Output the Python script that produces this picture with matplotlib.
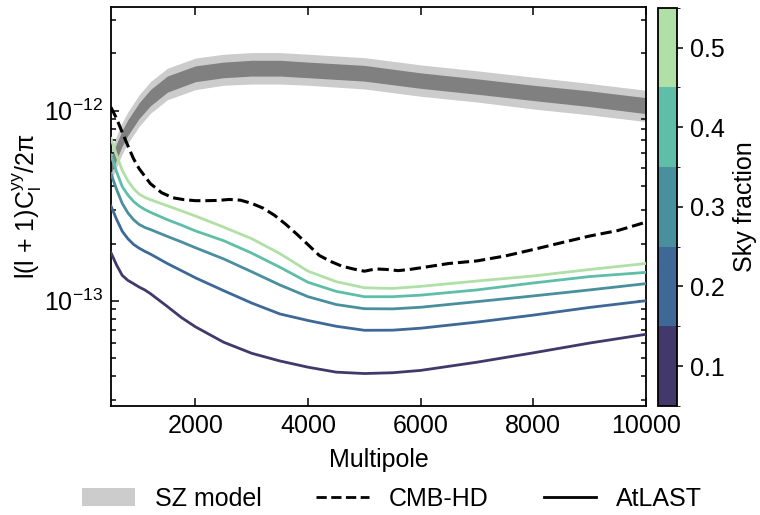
import numpy as np
import matplotlib
matplotlib.use('Agg')
import matplotlib.pyplot as plt
from matplotlib.colors import ListedColormap, BoundaryNorm
from matplotlib.cm import ScalarMappable
from matplotlib.patches import Patch
from matplotlib.lines import Line2D

plt.rcParams['font.family'] = ['Liberation Sans', 'DejaVu Sans']
plt.rcParams['mathtext.fontset'] = 'custom'
plt.rcParams['mathtext.rm'] = 'Liberation Sans'
plt.rcParams['mathtext.it'] = 'Liberation Sans:italic'
plt.rcParams['mathtext.default'] = 'regular'
plt.rcParams['font.size'] = 18

# values below are in units of 1e-13
unit = 1e-13

# SZ model band (two confidence levels)
ell_sz = [500, 600, 700, 800, 1000, 1200, 1500, 2000, 2500, 3000, 3500, 4000,
          5000, 6000, 7000, 8000, 9000, 10000]
sz_light_lo = [4.24, 5.04, 5.93, 6.73, 8.26, 9.67, 11.4, 12.9, 13.6, 13.8, 13.8, 13.6,
               13.0, 11.9, 11.1, 10.2, 9.50, 8.76]
sz_light_hi = [6.21, 7.38, 8.68, 9.85, 12.1, 14.2, 16.7, 18.9, 19.8, 20.2, 20.2, 19.8,
               19.0, 17.4, 16.2, 15.0, 13.9, 12.8]
sz_dark_lo = [4.66, 5.55, 6.52, 7.40, 9.09, 10.6, 12.5, 14.2, 14.9, 15.2, 15.2, 14.9,
              14.3, 13.1, 12.2, 11.3, 10.5, 9.64]
sz_dark_hi = [5.64, 6.71, 7.89, 8.95, 11.0, 12.9, 15.2, 17.2, 18.0, 18.4, 18.4, 18.0,
              17.3, 15.8, 14.7, 13.6, 12.7, 11.7]

# CMB-HD noise
ell_hd = [500, 600, 700, 800, 900, 1000, 1200, 1400, 1600, 1800, 2000, 2200, 2400,
          2600, 2800, 3000, 3200, 3400, 3600, 3800, 4000, 4200, 4400, 4600, 4800,
          5000, 5200, 5400, 5600, 5800, 6000, 6500, 7000, 7500, 8000, 8500, 9000,
          9500, 10000]
cmb_hd = [10.41, 9.08, 7.69, 6.54, 5.59, 4.95, 4.13, 3.70, 3.48, 3.40, 3.36, 3.36, 3.37,
          3.41, 3.38, 3.25, 3.07, 2.82, 2.53, 2.24, 1.97, 1.73, 1.61, 1.52, 1.47,
          1.43, 1.47, 1.46, 1.44, 1.46, 1.49, 1.57, 1.62, 1.72, 1.86, 2.02, 2.19,
          2.34, 2.59]

# AtLAST noise for different sky fractions
ell_at = [500, 600, 700, 800, 900, 1000, 1100, 1200, 1500, 1750, 2000, 2500, 3000,
          3500, 4000, 4500, 5000, 5500, 6000, 7000, 8000, 9000, 10000]
fsky = [0.1, 0.2, 0.3, 0.4, 0.5]
atlast_01 = [1.79, 1.54, 1.36, 1.28, 1.23, 1.18, 1.14, 1.09, 0.933, 0.816, 0.729, 0.605,
             0.529, 0.482, 0.447, 0.421, 0.414, 0.418, 0.430, 0.475, 0.532, 0.599, 0.666]
atlast_02 = [3.15, 2.68, 2.32, 2.12, 1.98, 1.89, 1.82, 1.76, 1.57, 1.44, 1.32, 1.13,
             0.972, 0.852, 0.787, 0.734, 0.699, 0.70, 0.717, 0.772, 0.840, 0.922, 1.0]
atlast_03 = [4.66, 3.85, 3.25, 2.90, 2.67, 2.52, 2.43, 2.37, 2.18, 2.04, 1.90, 1.66,
             1.42, 1.21, 1.05, 0.955, 0.908, 0.906, 0.924, 0.989, 1.06, 1.14, 1.23]
atlast_04 = [5.84, 4.76, 3.99, 3.60, 3.33, 3.15, 3.02, 2.92, 2.67, 2.50, 2.33, 2.07,
             1.78, 1.50, 1.25, 1.12, 1.05, 1.05, 1.07, 1.14, 1.24, 1.34, 1.41]
atlast_05 = [7.14, 5.83, 4.85, 4.28, 3.89, 3.64, 3.50, 3.40, 3.16, 2.97, 2.79, 2.44,
             2.12, 1.77, 1.43, 1.26, 1.17, 1.16, 1.19, 1.27, 1.35, 1.46, 1.57]
atlast = [atlast_01, atlast_02, atlast_03, atlast_04, atlast_05]

colors = ['#42386b', '#3e6896', '#4a8f9e', '#5fbea8', '#b0e0a6']
cmap = ListedColormap(colors)
norm = BoundaryNorm([0.05, 0.15, 0.25, 0.35, 0.45, 0.55], cmap.N)

fig = plt.figure(figsize=(7.6, 5.15), dpi=100)
ax = fig.add_axes([0.146, 0.212, 0.704, 0.774])
cax = fig.add_axes([0.866, 0.212, 0.025, 0.773])

ax.fill_between(ell_sz, np.array(sz_light_lo) * unit, np.array(sz_light_hi) * unit,
                color='#cccccc', lw=0, zorder=1)
ax.fill_between(ell_sz, np.array(sz_dark_lo) * unit, np.array(sz_dark_hi) * unit,
                color='#808080', lw=0, zorder=2)

ax.plot(ell_hd, np.array(cmb_hd) * unit, color='k', ls='--', lw=2.2, zorder=4)
for f, vals in zip(fsky, atlast):
    ax.plot(ell_at, np.array(vals) * unit, color=cmap(norm(f)), lw=2.0, zorder=3)

ax.set_yscale('log')
ax.set_xlim(500, 10000)
ax.set_ylim(2.8e-14, 3.5e-12)
ax.set_xticks([2000, 4000, 6000, 8000, 10000])
ax.tick_params(which='both', direction='in', top=True, right=True, width=1.1)
ax.tick_params(which='major', length=6, labelsize=18, pad=6)
ax.tick_params(which='minor', length=3.5)
for s in ax.spines.values():
    s.set_linewidth(1.3)
ax.set_xlabel('Multipole', fontsize=18, labelpad=7)
ax.set_ylabel(r'l(l + 1)C$_\mathrm{l}^\mathrm{yy}$/2π', fontsize=18, labelpad=0)

cb = fig.colorbar(ScalarMappable(norm=norm, cmap=cmap), cax=cax, ticks=fsky)
cb.set_label('Sky fraction', fontsize=18, labelpad=6)
cb.ax.tick_params(labelsize=18, length=4, width=1.1, pad=5)
cb.outline.set_linewidth(1.3)

handles = [Patch(facecolor='#cccccc', edgecolor='none'),
           Line2D([], [], color='k', ls='--', lw=2),
           Line2D([], [], color='k', lw=2)]
fig.legend(handles, ['SZ model', 'CMB-HD', 'AtLAST'], loc='lower center',
           bbox_to_anchor=(0.516, -0.035), ncol=3, frameon=False, fontsize=18,
           handlelength=2.1, columnspacing=2.2, handletextpad=0.8)

fig.savefig('out.png', dpi=100)
